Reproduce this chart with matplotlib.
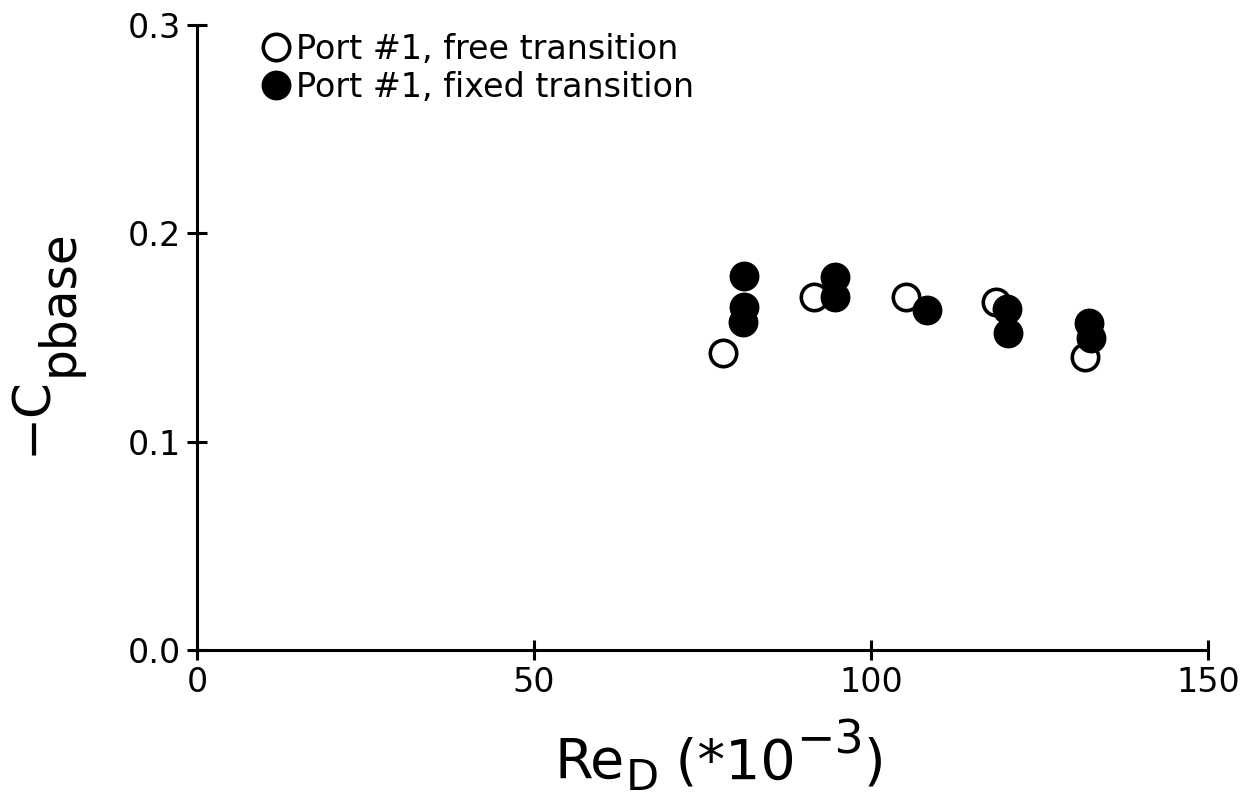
import matplotlib
matplotlib.use('Agg')
import matplotlib.pyplot as plt
from matplotlib.transforms import IdentityTransform

plt.rcParams['font.family'] = 'DejaVu Sans'

# Port #1, free transition (open circles)
free_re = [78.0, 91.5, 105.2, 118.5, 131.7]
free_cp = [0.1426, 0.1695, 0.1695, 0.1670, 0.1407]

# Port #1, fixed transition (filled circles)
fixed_re = [81.1, 81.1, 81.0, 94.6, 94.6, 108.3, 120.2, 120.3, 132.3, 132.6]
fixed_cp = [0.1795, 0.1647, 0.1575, 0.1790, 0.1695, 0.1630, 0.1637, 0.1520, 0.1570, 0.1498]

fig = plt.figure(figsize=(12.51, 8.0), dpi=100)
ax = fig.add_axes([0.1575, 0.1875, 0.8081, 0.78125])

ax.plot(free_re, free_cp, 'o', ls='none', ms=19, mfc='white', mec='black', mew=2.6,
        label='Port #1, free transition', clip_on=False)
ax.plot(fixed_re, fixed_cp, 'o', ls='none', ms=20, mfc='black', mec='black', mew=1.5,
        label='Port #1, fixed transition', clip_on=False)

ax.set_xlim(0, 150)
ax.set_ylim(0, 0.3)
ax.set_xticks([0, 50, 100, 150])
ax.set_yticks([0.0, 0.1, 0.2, 0.3])
ax.set_yticklabels(['0.0', '0.1', '0.2', '0.3'])

for s in ['top', 'right']:
    ax.spines[s].set_visible(False)
for s in ['left', 'bottom']:
    ax.spines[s].set_linewidth(2.2)

ax.tick_params(direction='inout', length=15, width=2.2, labelsize=24, pad=4)

ax.legend(loc='upper left', bbox_to_anchor=(0.035, 1.025), frameon=False,
          fontsize=24, handletextpad=0.0, labelspacing=0.15, borderpad=0.2,
          handlelength=1.2, markerscale=1.0)

# axis labels built from pieces so the sub/superscripts stay large like the original
renderer = fig.canvas.get_renderer()


def label_run(pieces, x, y, vertical=False):
    for txt, size, off in pieces:
        if vertical:
            t = fig.text(x + off, y, txt, fontsize=size, rotation=90,
                         rotation_mode='anchor', ha='left', va='baseline',
                         transform=IdentityTransform())
            y += t.get_window_extent(renderer).height
        else:
            t = fig.text(x, y + off, txt, fontsize=size, ha='left', va='baseline',
                         transform=IdentityTransform())
            x += t.get_window_extent(renderer).width


label_run([('Re', 40, 0), ('D', 31, -12), (' (*10', 40, 0), ('\u22123', 33, 24),
           (')', 40, 0)], 555, 22)
label_run([('\u2212C', 37, 0), ('pbase', 35, 27)], 46, 345, vertical=True)

fig.savefig('out.png', dpi=100)
